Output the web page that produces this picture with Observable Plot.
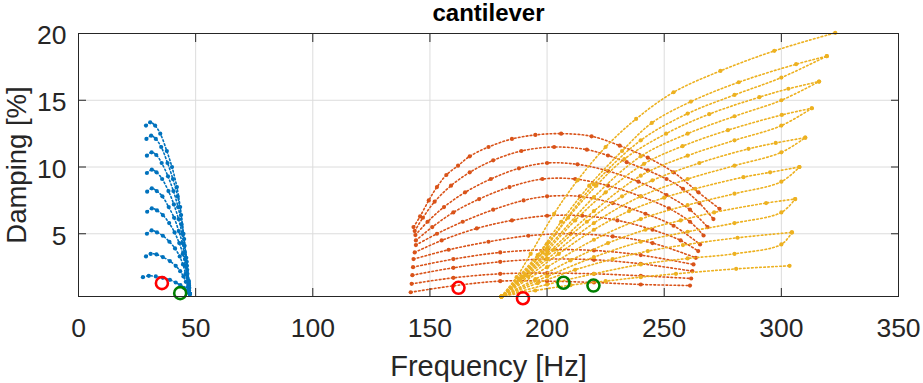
<!DOCTYPE html>
<html><head><meta charset="utf-8">
<script src="https://cdn.jsdelivr.net/npm/d3@7"></script>
<script src="https://cdn.jsdelivr.net/npm/@observablehq/plot@0.6"></script>
<style>html,body{margin:0;padding:0;background:#fff;} svg{display:block;}</style>
</head><body><div id="chart"></div>
<script>
const titleText = "cantilever";
const xLabel = "Frequency [Hz]";
const yLabel = "Damping [%]";
const xTicks = [0, 50, 100, 150, 200, 250, 300, 350];
const yTicks = [5, 10, 15, 20];

const blueCurves = [
  [[28.8,13.1],[30.6,13.35],[32.7,13.1],[34.9,12.5],[37.7,11.2],[39.9,10.0],[42,8.5],[43.4,7.0],[44.8,5.0],[46,3.2],[47,1.5],[47.5,0.5]],
  [[29,12.1],[31,12.35],[33,12.1],[35.3,11.5],[38,10.3],[40.3,9.1],[42.3,7.8],[43.8,6.4],[45.1,4.6],[46.2,2.9],[47.1,1.4],[47.5,0.5]],
  [[29.2,10.85],[31.2,11.1],[33.2,10.9],[35.5,10.3],[38.2,9.3],[40.5,8.2],[42.5,7.0],[44,5.7],[45.3,4.1],[46.3,2.6],[47.1,1.3],[47.5,0.5]],
  [[29.2,9.55],[31.3,9.8],[33.3,9.6],[35.7,9.1],[38.4,8.2],[40.7,7.2],[42.7,6.1],[44.2,5.0],[45.4,3.6],[46.4,2.3],[47.1,1.2],[47.5,0.5]],
  [[29.3,8.15],[31.3,8.4],[33.4,8.2],[35.8,7.8],[38.5,7.0],[40.8,6.2],[42.8,5.2],[44.3,4.3],[45.5,3.1],[46.5,2.0],[47.2,1.1],[47.5,0.5]],
  [[29.3,6.65],[31.3,6.9],[33.5,6.75],[36,6.4],[38.7,5.8],[41,5.1],[43,4.3],[44.5,3.5],[45.6,2.6],[46.5,1.7],[47.2,1.0],[47.5,0.5]],
  [[29.2,5.0],[31.2,5.25],[33.5,5.1],[36,4.85],[38.8,4.4],[41.2,3.9],[43.2,3.3],[44.6,2.7],[45.7,2.0],[46.6,1.4],[47.2,0.9],[47.5,0.5]],
  [[28.8,3.3],[30.8,3.5],[33.3,3.45],[36,3.25],[39,2.95],[41.5,2.6],[43.4,2.2],[44.8,1.8],[45.8,1.4],[46.7,1.0],[47.2,0.75],[47.5,0.5]],
  [[27.5,1.75],[30,1.85],[33,1.8],[36,1.7],[39,1.55],[41.5,1.35],[43.5,1.15],[45,0.95],[46.2,0.75],[47,0.6],[47.5,0.5]]
];

const orangeCurves = [
  [[143,5.5],[145.8,6.3],[149.5,7.5],[153,8.5],[157,9.4],[162,10.1],[167,10.8],[175,11.5],[185,12.1],[195,12.4],[206,12.5],[219,12.3],[231,11.6],[243,10.7],[254,9.6],[264.6,8.1],[273.6,6.87]],
  [[143.5,5.2],[147,6.2],[152,7.4],[159,8.6],[167,9.6],[177,10.5],[189,11.2],[203,11.5],[217,11.3],[226,10.86],[234,10.36],[243,9.74],[251,9.1],[258,8.37],[265,7.3],[271,6.1]],
  [[143.8,4.9],[149,5.9],[156,7.0],[165,8.1],[176,9.1],[188,9.9],[200,10.3],[213,10.2],[226,9.7],[239,8.9],[251,7.9],[261,6.8],[268.5,5.5]],
  [[144,4.5],[151,5.5],[160,6.6],[171,7.6],[184,8.5],[198,9.1],[212,9.1],[226,8.6],[240,7.8],[252,6.9],[261,5.9],[266.8,4.87]],
  [[144,4.15],[153,5.0],[164,5.9],[177,6.8],[190,7.5],[200,7.8],[214,7.8],[228,7.3],[242,6.5],[254,5.6],[265.3,4.2]],
  [[143.5,3.6],[155,4.5],[170,5.4],[185,6.0],[200,6.35],[215,6.35],[230,6.0],[245,5.3],[257,4.5],[264.5,3.7]],
  [[143,3.1],[158,3.8],[175,4.4],[192,4.85],[210,5.0],[228,4.8],[245,4.3],[263.5,3.2]],
  [[142.8,2.5],[160,3.1],[180,3.6],[200,3.8],[220,3.75],[240,3.4],[262.5,2.7]],
  [[142.5,1.9],[160,2.45],[180,2.9],[200,3.1],[220,3.05],[240,2.75],[262,2.2]],
  [[142.2,1.25],[160,1.7],[180,2.0],[200,2.05],[220,2.0],[240,1.85],[261.5,1.65]],
  [[141.8,0.62],[160,1.1],[180,1.45],[200,1.45],[220,1.35],[240,1.2],[261,1.12]]
];

const yellowCurves = [
  [[180.5,0.3],[187,1.75],[193,3.5],[203,6.5],[213,9],[225,11.5],[238,13.6],[254,15.6],[274,17.2],[297,18.7],[323,20.05]],
  [[180.5,0.3],[188,1.6],[196,3.4],[206,5.9],[218,8.6],[232,11.2],[244.7,13.3],[261.4,14.9],[281.8,16.35],[306.3,17.7],[319.4,18.3]],
  [[180.5,0.3],[189,1.7],[198,3.6],[209,6.2],[221,8.6],[233,10.6],[250.8,12.5],[269.2,13.96],[290.6,15.23],[303,15.86],[316.1,16.4]],
  [[180.5,0.3],[190,1.8],[200,3.7],[212,6.0],[225,8.1],[241.4,10.24],[257.8,11.56],[277.2,12.76],[300.2,13.9],[313,14.4]],
  [[180.5,0.3],[191,1.9],[203,3.8],[217,5.9],[232,7.8],[245,9.0],[265,10.3],[286,11.36],[297.6,11.8],[310.2,12.2]],
  [[180.5,0.3],[192,1.8],[205,3.5],[220,5.3],[235,6.7],[250,7.7],[263.2,8.37],[283.8,9.24],[295.2,9.6],[307.7,10]],
  [[180.5,0.3],[195,1.6],[210,3.0],[226,4.3],[242,5.3],[257,6.0],[271.3,6.6],[293.5,7.3],[305.9,7.6]],
  [[180.5,0.3],[196,1.3],[212,2.3],[228,3.1],[243,3.7],[258,4.15],[281.3,4.7],[304.5,5.1]],
  [[180.5,0.3],[195,0.75],[210,1.15],[225,1.45],[240,1.75],[255,2.0],[280.7,2.37],[303.5,2.6]],
  [[180.5,0.3],[200,4.25],[220,8.7],[240,12.0],[260,14.0],[280,15.4],[300,16.7],[319.4,18.3]],
  [[180.5,0.3],[200,3.9],[220,7.75],[240,10.8],[260,12.5],[280,13.8],[300,15.0],[316.1,16.4]],
  [[180.5,0.3],[200,3.5],[220,6.7],[240,9.35],[260,10.85],[280,12.0],[300,13.1],[313,14.4]],
  [[180.5,0.3],[200,3.1],[220,5.8],[240,7.8],[260,9.1],[280,10.1],[300,11.1],[310.2,12.2]],
  [[180.5,0.3],[200,2.5],[220,4.55],[240,6.1],[260,7.15],[280,8.0],[300,8.9],[307.7,10]],
  [[180.5,0.3],[200,1.8],[220,3.25],[240,4.4],[260,5.15],[280,5.8],[300,6.6],[305.9,7.6]],
  [[180.5,0.3],[200,1.2],[220,2.0],[240,2.7],[260,3.15],[280,3.5],[300,4.2],[304.5,5.1]]
];

const redMarkers = [[35.6,1.3],[162.2,0.95],[189.7,0.17]];
const greenMarkers = [[43.4,0.55],[207,1.33],[219.8,1.12]];

const colors = {blue:"#0072BD", orange:"#D95319", yellow:"#EDB120", red:"#FF0000", green:"#008000"};

function flat(curves, fam) {
  return curves.flatMap((c, i) => c.map(([x, y]) => ({x, y, id: fam + i})));
}
const families = [["blue", blueCurves], ["orange", orangeCurves], ["yellow", yellowCurves]];
const curveMarks = families.flatMap(([fam, curves]) => {
  const data = flat(curves, fam);
  return [
    Plot.line(data, {x:"x", y:"y", z:"id", stroke: colors[fam], strokeWidth:1.6, strokeDasharray:"1.6 2.4", curve:"catmull-rom"}),
    Plot.dot(data, {x:"x", y:"y", r:2.1, fill: colors[fam], stroke:"none"})
  ];
});

const font = "'Liberation Sans', Arial, Helvetica, sans-serif";
const ink = "#262626";
const chart = Plot.plot({
  width: 923, height: 383,
  marginLeft: 78, marginRight: 25, marginTop: 33, marginBottom: 87,
  style: {fontFamily: font, color: ink, background: "#fff", overflow: "visible"},
  x: {domain: [0, 350]},
  y: {domain: [0.3, 20]},
  marks: [
    Plot.gridX(xTicks, {stroke: "#dcdcdc", strokeOpacity: 1}),
    Plot.gridY(yTicks, {stroke: "#dcdcdc", strokeOpacity: 1}),
    ...curveMarks,
    Plot.dot(redMarkers, {x: d => d[0], y: d => d[1], r: 6, stroke: colors.red, strokeWidth: 2.6, fill: "none"}),
    Plot.dot(greenMarkers, {x: d => d[0], y: d => d[1], r: 6, stroke: colors.green, strokeWidth: 2.6, fill: "none"}),
    Plot.frame({stroke: ink, strokeWidth: 1}),
    Plot.axisX(xTicks, {anchor: "bottom", tickSize: -8, fill: "none", stroke: ink, label: null}),
    Plot.axisX(xTicks, {anchor: "top", tickSize: -8, fill: "none", stroke: ink, label: null}),
    Plot.axisY(yTicks, {anchor: "left", tickSize: -8, fill: "none", stroke: ink, label: null}),
    Plot.axisY(yTicks, {anchor: "right", tickSize: -8, fill: "none", stroke: ink, label: null}),
    Plot.axisX(xTicks, {anchor: "bottom", tickSize: 0, tickPadding: 22, fontSize: 26.5, fill: ink, label: null}),
    Plot.axisY(yTicks, {anchor: "left", tickSize: 0, tickPadding: 12, dy: 2.5, fontSize: 26.5, fill: ink, label: null}),
    Plot.text([titleText], {text: d => d, frameAnchor: "top", dy: -20, textAnchor: "middle", lineAnchor: "middle", fontSize: 24, fontWeight: "bold", fill: "#000"}),
    Plot.text([xLabel], {text: d => d, frameAnchor: "bottom", dy: 70.5, textAnchor: "middle", lineAnchor: "middle", fontSize: 29, fill: ink}),
    Plot.text([yLabel], {text: d => d, frameAnchor: "left", dx: -61.5, rotate: -90, textAnchor: "middle", lineAnchor: "middle", fontSize: 27.5, fill: ink})
  ]
});
document.getElementById("chart").appendChild(chart);
</script>
</body></html>
